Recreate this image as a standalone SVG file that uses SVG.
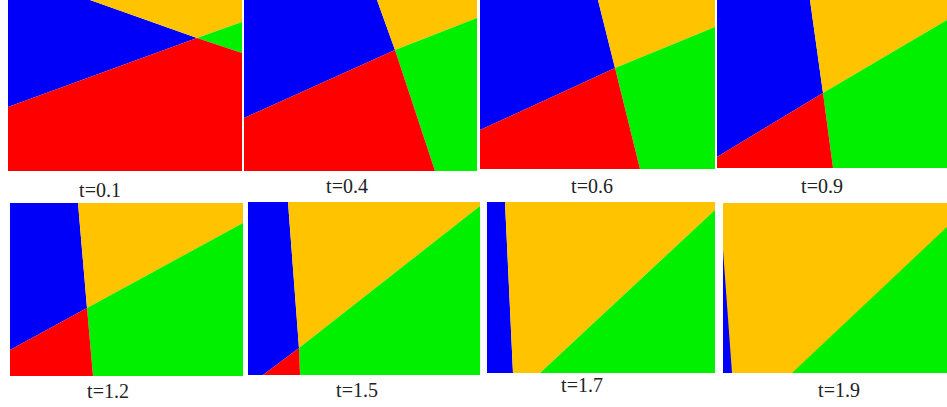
<svg xmlns="http://www.w3.org/2000/svg" width="947" height="407" viewBox="0 0 947 407">
<style>
.b{fill:#0000fa}.r{fill:#ff0000}.y{fill:#ffc300}.g{fill:#00f000}
text{font-family:"Liberation Serif","Times New Roman",serif;font-size:20px;fill:#222;text-anchor:middle}
</style>
<rect width="947" height="407" fill="#ffffff"/>
<g id="p1">
<polygon class="b" points="8,0 90,0 197,38 8,107"/>
<polygon class="y" points="90,0 242,0 242,22 197,38"/>
<polygon class="g" points="197,38 242,22 242,53"/>
<polygon class="r" points="8,107 197,38 242,53 242,171 8,171"/>
<text x="100" y="197">t=0.1</text>
</g>
<g id="p2">
<polygon class="b" points="244,0 377,0 395,50 244,118"/>
<polygon class="y" points="377,0 477,0 477,18 395,50"/>
<polygon class="g" points="395,50 477,18 477,171 435,171"/>
<polygon class="r" points="244,118 395,50 435,171 244,171"/>
<text x="347" y="193">t=0.4</text>
</g>
<g id="p3">
<polygon class="b" points="480,0 598,0 615,68 480,130"/>
<polygon class="y" points="598,0 715,0 715,27 615,68"/>
<polygon class="g" points="615,68 715,27 715,169 640,169"/>
<polygon class="r" points="480,130 615,68 640,169 480,169"/>
<text x="592" y="193">t=0.6</text>
</g>
<g id="p4">
<polygon class="b" points="717,0 810,0 823,93 717,157"/>
<polygon class="y" points="810,0 947,0 947,20 823,93"/>
<polygon class="g" points="823,93 947,20 947,168 833,168"/>
<polygon class="r" points="717,157 823,93 833,168 717,168"/>
<text x="822" y="193">t=0.9</text>
</g>
<g id="p5">
<polygon class="b" points="10,203 78,203 87,308 10,350"/>
<polygon class="y" points="78,203 243,203 243,223 87,308"/>
<polygon class="g" points="87,308 243,223 243,376 93,376"/>
<polygon class="r" points="10,350 87,308 93,376 10,376"/>
<text x="108" y="398">t=1.2</text>
</g>
<g id="p6">
<polygon class="b" points="248,202 288,202 299,348 263,375 248,375"/>
<polygon class="y" points="288,202 480,202 480,206 299,348"/>
<polygon class="g" points="299,348 480,206 480,375 300,375"/>
<polygon class="r" points="263,375 299,348 300,375"/>
<text x="357" y="397">t=1.5</text>
</g>
<g id="p7">
<polygon class="b" points="487,202 505,202 513,373 487,373"/>
<polygon class="y" points="505,202 715,202 715,210 540,373 513,373"/>
<polygon class="g" points="540,373 715,210 715,373"/>
<text x="582" y="392">t=1.7</text>
</g>
<g id="p8">
<polygon class="y" points="723,203 947,203 947,373 723,373"/>
<polygon class="b" points="723,250 732,373 723,373"/>
<polygon class="g" points="792,373 947,227 947,373"/>
<text x="839" y="397">t=1.9</text>
</g>
</svg>
